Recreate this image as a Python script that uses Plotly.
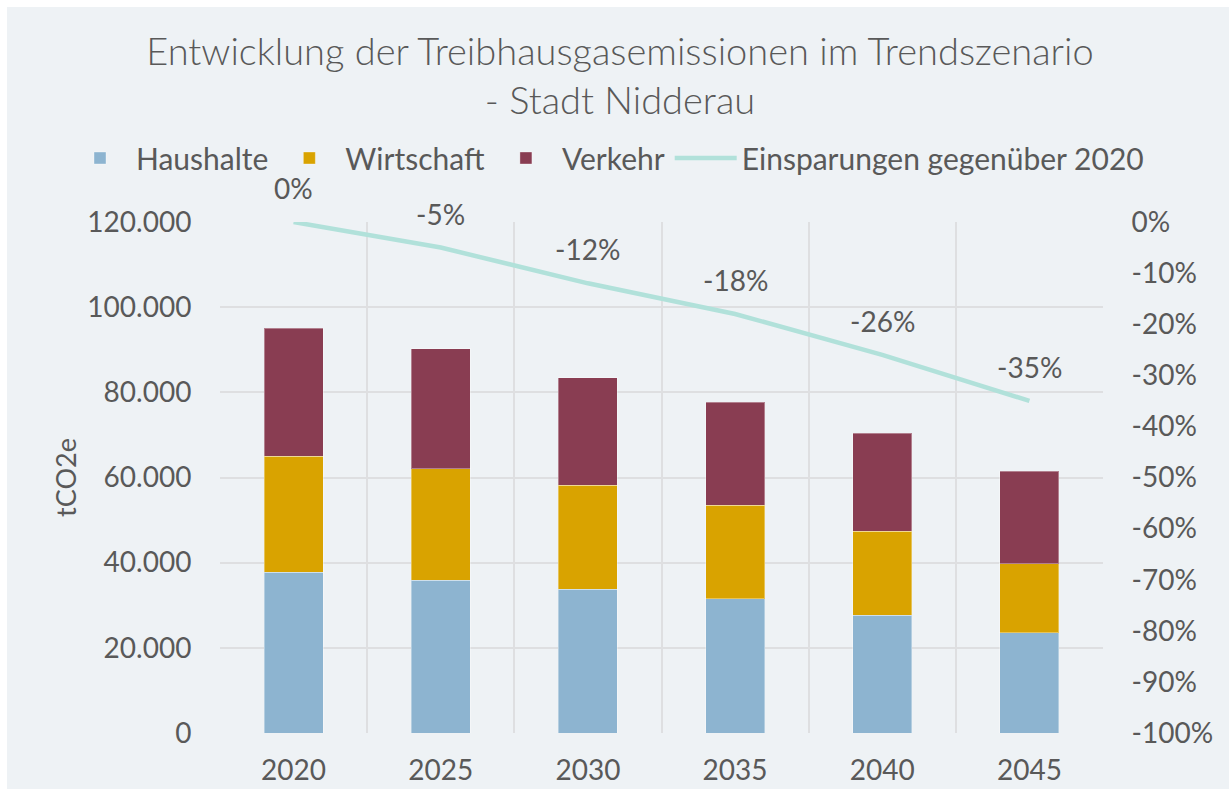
import plotly.graph_objects as go

# Jahre und Emissionen je Sektor (tCO2e)
years = ["2020", "2025", "2030", "2035", "2040", "2045"]
haushalte = [37800, 35900, 33800, 31500, 27700, 23500]
wirtschaft = [27200, 26100, 24400, 22000, 19700, 16200]
verkehr = [30100, 28200, 25200, 24200, 23000, 21800]
# Einsparungen gegenüber 2020 (Anteil)
einsparungen = [0.0, -0.05, -0.12, -0.18, -0.26, -0.35]

left_ticks = [0, 20000, 40000, 60000, 80000, 100000, 120000]
right_ticks_pct = [0, -10, -20, -30, -40, -50, -60, -70, -80, -90, -100]

FONT = "Lato"
TXT = "#595959"
BG = "#EEF2F5"
GRID = "#DEDFE1"

pos = list(range(len(years)))
bounds = [p - 0.5 for p in pos] + [pos[-1] + 0.5]

fig = go.Figure()
edge = dict(color="rgba(255,255,255,0.35)", width=1)
fig.add_trace(go.Bar(x=pos, y=haushalte, name="Haushalte", marker_color="#8DB4D0", marker_line=edge))
fig.add_trace(go.Bar(x=pos, y=wirtschaft, name="Wirtschaft", marker_color="#D9A300", marker_line=edge))
fig.add_trace(go.Bar(x=pos, y=verkehr, name="Verkehr", marker_color="#893D52", marker_line=edge))
fig.add_trace(go.Scatter(x=pos, y=einsparungen, name="Einsparungen gegenüber 2020",
                         mode="lines", yaxis="y2",
                         line=dict(color="#B1E1DA", width=4.5)))

# Prozent-Beschriftungen über der Linie
for p, v in zip(pos, einsparungen):
    fig.add_annotation(x=p, y=v, yref="y2", text=f"{round(v * 100)}%",
                       showarrow=False, yshift=34,
                       font=dict(family=FONT, size=28, color=TXT))

fig.update_layout(
    width=1229, height=789,
    barmode="stack", bargap=0.6,
    separators=",.",
    paper_bgcolor="white", plot_bgcolor=BG,
    margin=dict(l=220, r=126, t=222, b=56, autoexpand=False),
    font=dict(family=FONT, color=TXT),
    title=dict(text="Entwicklung der Treibhausgasemissionen im Trendszenario<br>- Stadt Nidderau",
               x=620 / 1229, xanchor="center", xref="container",
               y=1 - 65 / 789, yanchor="middle", yref="container",
               font=dict(family=FONT, size=38, color=TXT, weight=300)),
    legend=dict(orientation="h", x=(64 - 220) / 883, xanchor="left",
                y=(733 - 158) / 511, yanchor="middle",
                font=dict(family=FONT, size=30, color=TXT), itemwidth=62,
                bgcolor="rgba(0,0,0,0)", traceorder="normal"),
    xaxis=dict(range=[bounds[0], bounds[-1]], tickvals=pos, ticktext=years,
               showgrid=False, zeroline=False, showline=False,
               minor=dict(tickvals=bounds, showgrid=True, gridcolor=GRID, gridwidth=2),
               ticks="outside", ticklen=12, tickcolor="rgba(0,0,0,0)",
               tickfont=dict(family=FONT, size=28, color=TXT)),
    yaxis=dict(range=[0, 120000], tickvals=left_ticks, tickformat=",d",
               showgrid=True, gridcolor=GRID, gridwidth=2, zeroline=False,
               ticks="outside", ticklen=22, tickcolor="rgba(0,0,0,0)",
               tickfont=dict(family=FONT, size=28, color=TXT),
               title=dict(text="tCO2e", font=dict(family=FONT, size=27, color=TXT),
                          standoff=2)),
    yaxis2=dict(range=[-1, 0], overlaying="y", side="right",
                tickvals=[p / 100 for p in right_ticks_pct],
                ticktext=[f"{p}%" for p in right_ticks_pct],
                showgrid=False, zeroline=False,
                ticks="outside", ticklen=22, tickcolor="rgba(0,0,0,0)",
                tickfont=dict(family=FONT, size=28, color=TXT)),
)

# Hintergrundfläche des Diagramms
fig.add_shape(type="rect", xref="paper", yref="paper", layer="below",
              x0=(7 - 220) / 883, x1=(1229 - 220) / 883,
              y0=(733 - 789) / 511, y1=(733 - 7) / 511,
              fillcolor=BG, line_width=0)

fig.write_html("out.html")
